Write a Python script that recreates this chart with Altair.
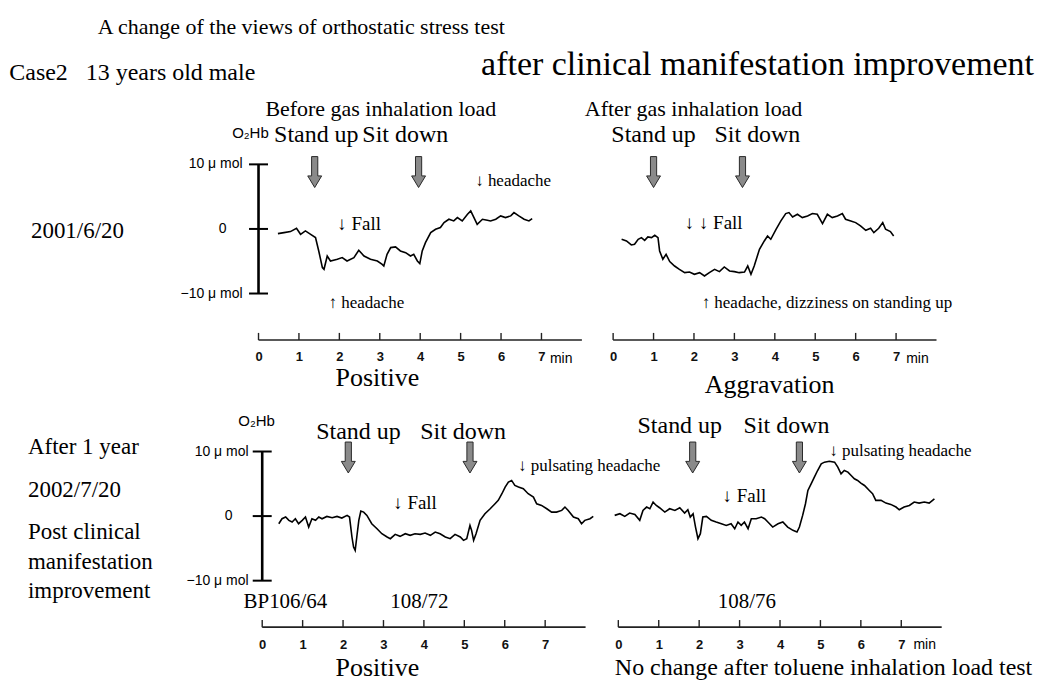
import altair as alt
import pandas as pd

# ---------------- data (minutes, µmol) ----------------
TL_T = [0.48,0.63,0.79,0.94,1.04,1.16,1.29,1.41,1.49,1.58,1.62,1.70,1.78,1.95,2.07,2.19,2.36,2.48,2.61,2.77,
        2.94,3.06,3.10,3.18,3.27,3.39,3.51,3.64,3.76,3.84,3.93,3.99,4.05,4.13,4.26,4.38,4.50,4.59,4.71,4.83,
        4.92,5.04,5.17,5.25,5.33,5.41,5.54,5.66,5.74,5.87,5.99,6.11,6.24,6.32,6.44,6.57,6.69,6.77]
TL_V = [-0.72,-0.57,-0.41,0.10,-0.83,-0.31,-0.83,-1.34,-3.41,-5.99,-6.25,-4.19,-4.96,-4.70,-4.44,-4.96,-4.44,-3.31,-4.19,-4.70,
        -4.96,-5.48,-5.74,-3.93,-2.89,-2.79,-3.41,-3.67,-4.19,-3.93,-4.96,-5.37,-3.41,-2.12,-0.57,-0.05,0.21,0.98,1.50,1.24,
        1.76,1.24,2.27,2.79,1.76,0.72,1.50,1.34,1.24,1.50,2.02,1.76,2.02,2.53,2.02,1.50,1.24,1.60]

TR_T = [0.21,0.33,0.45,0.53,0.62,0.70,0.78,0.86,0.95,1.03,1.11,1.15,1.23,1.31,1.40,1.52,1.64,1.77,1.89,2.01,
        2.14,2.26,2.38,2.51,2.63,2.75,2.88,3.00,3.12,3.25,3.33,3.41,3.49,3.62,3.74,3.82,3.90,4.03,4.15,4.27,
        4.35,4.44,4.56,4.68,4.81,4.93,5.05,5.18,5.30,5.42,5.55,5.67,5.75,5.88,6.00,6.12,6.25,6.37,6.45,6.57,
        6.67,6.74,6.86,6.94]
TR_V = [-1.60,-1.86,-2.48,-2.38,-1.60,-1.34,-1.76,-1.24,-1.34,-0.98,-1.34,-3.41,-4.70,-3.93,-5.06,-5.74,-6.25,-6.77,-6.67,-7.03,
        -6.77,-7.29,-6.77,-6.25,-6.61,-5.89,-6.51,-6.61,-6.77,-6.67,-5.74,-7.03,-5.74,-3.15,-1.86,-1.09,-1.60,-0.05,1.24,2.38,
        2.53,1.86,2.27,1.76,2.02,2.38,2.27,0.83,2.27,1.76,2.02,2.38,1.50,1.24,0.98,0.47,-0.21,0.10,-0.57,0.10,
        0.98,-0.05,-0.41,-1.09]

BL_T = [0.41,0.49,0.58,0.66,0.74,0.82,0.90,0.99,1.07,1.15,1.23,1.32,1.40,1.48,1.60,1.73,1.85,1.97,2.10,2.16,
        2.22,2.26,2.30,2.34,2.39,2.44,2.51,2.59,2.71,2.84,2.96,3.09,3.17,3.29,3.41,3.54,3.66,3.78,3.91,4.03,
        4.16,4.28,4.40,4.53,4.65,4.77,4.90,4.98,5.06,5.14,5.18,5.23,5.29,5.39,5.51,5.64,5.76,5.84,5.93,6.01,
        6.09,6.17,6.25,6.34,6.46,6.58,6.71,6.79,6.91,7.04,7.16,7.28,7.41,7.49,7.57,7.70,7.82,7.90,7.98,8.11,8.19]
BL_V = [-1.18,-0.41,-0.15,-0.66,-0.92,-0.41,-1.18,-0.66,-0.15,-1.70,-0.41,-0.66,-0.15,-0.41,-0.05,-0.25,-0.05,-0.30,0.11,-0.15,
        -3.24,-4.79,-5.31,-3.24,-0.66,0.78,0.62,0.11,-1.18,-1.96,-2.73,-3.24,-3.50,-2.83,-3.14,-2.73,-2.98,-2.73,-2.83,-2.63,
        -2.98,-2.47,-2.73,-3.24,-3.50,-2.83,-3.24,-3.76,-3.50,-1.44,-2.21,-3.76,-2.73,-0.66,0.37,1.14,1.91,2.43,3.46,4.49,
        5.26,5.52,4.74,4.49,4.23,3.46,2.94,1.91,1.65,1.14,0.62,0.62,0.88,1.40,0.88,-0.15,-0.41,-1.18,-0.66,-0.41,-0.05]

BR_T = [-0.09,0.04,0.16,0.28,0.41,0.53,0.61,0.70,0.78,0.86,0.94,1.02,1.15,1.27,1.40,1.52,1.64,1.72,1.78,1.85,
        1.91,1.97,2.03,2.09,2.18,2.30,2.42,2.55,2.67,2.79,2.88,2.96,3.04,3.12,3.21,3.29,3.41,3.54,3.62,3.70,
        3.82,3.95,4.07,4.19,4.32,4.42,4.48,4.56,4.63,4.69,4.77,4.85,4.93,5.02,5.10,5.22,5.35,5.43,5.51,5.59,
        5.68,5.76,5.84,5.92,6.00,6.09,6.21,6.29,6.37,6.50,6.62,6.74,6.87,6.95,7.07,7.20,7.32,7.44,7.57,7.69,7.82]
BR_V = [0.11,0.37,-0.05,0.47,0.26,-0.66,0.88,1.40,1.14,2.17,1.65,1.29,0.62,1.14,0.88,1.29,0.47,0.98,-0.15,0.37,
        -1.70,-3.50,-2.73,-0.15,-0.05,-0.66,-0.92,-1.18,-1.44,-1.18,-1.96,-0.92,-1.44,-0.92,-1.96,-0.41,-0.41,-0.15,-0.41,-0.92,
        -1.70,-1.18,-0.92,-1.70,-2.21,-2.47,-1.70,0.11,1.91,3.97,5.00,6.03,7.06,8.09,8.35,8.50,8.35,7.58,6.55,7.06,
        6.81,6.29,5.78,5.52,5.11,4.74,3.97,3.46,2.43,2.43,2.01,1.81,1.40,0.98,1.40,1.65,2.17,2.01,2.17,2.01,2.68]

# event arrows (minute of standing up / sitting down)
TL_EVENTS = [1.39, 3.96]
TR_EVENTS = [1.00, 3.20]
BL_EVENTS = [2.13, 5.14]
BR_EVENTS = [1.84, 4.48]

MINUTES = [0, 1, 2, 3, 4, 5, 6, 7]
Y_TICKS = [-10, 0, 10]

NB = "\u00a0"
# annotations: (label, minute, µmol, role)
TL_NOTES = [
    ("A change of the views of orthostatic stress test", -3.975, 31.22, "title"),
    ("after clinical manifestation improvement", 19.185, 25.35, "subtitle"),
    ("Case2" + NB * 3 + "13 years old male", -6.165, 24.11, "case"),
    ("Before gas inhalation load", 0.17, 18.55, "condition"),
    ("2001/6/20", -5.63, -0.31, "date"),
    ("O₂Hb", -0.20, 14.84, "signal"),
    ("Stand up", 1.43, 14.53, "event"),
    ("Sit down", 3.63, 14.53, "event"),
    ("↓ headache", 5.36, 7.42, "symptom"),
    ("↓ Fall", 1.95, 0.77, "fall"),
    ("↑ headache", 1.73, -11.44, "symptom"),
    ("10 μ mol", -0.395, 10, "ylabel"),
    ("0", -0.889, 0, "yzero"),
    ("−10 μ mol", -0.395, -10, "ylabel"),
    ("min", 7.21, -20.09, "unit"),
    ("Positive", 2.94, -23.10, "verdict"),
]
TR_NOTES = [
    ("After gas inhalation load", -0.70, 18.55, "condition"),
    ("Stand up", 1.00, 14.53, "event"),
    ("Sit down", 3.57, 14.53, "event"),
    ("↓ ↓ Fall", 1.77, 0.93, "fall"),
    ("↑ headache, dizziness on standing up", 2.19, -11.44, "symptom"),
    ("min", 7.25, -20.09, "unit"),
    ("Aggravation", 3.87, -24.10, "verdict"),
]
BL_NOTES = [
    ("After 1 year", -5.795, 10.62, "date"),
    ("2002/7/20", -5.795, 3.97, "date"),
    ("Post clinical", -5.795, -2.53, "date"),
    ("manifestation", -5.795, -7.16, "date"),
    ("improvement", -5.795, -11.64, "date"),
    ("O₂Hb", -0.14, 14.79, "signal"),
    ("Stand up", 2.38, 13.09, "event"),
    ("Sit down", 4.97, 13.09, "event"),
    ("↓ Fall", 3.24, 1.96, "fall"),
    ("↓ pulsating headache", 6.33, 7.68, "symptom"),
    ("10 μ mol", -0.338, 10, "ylabel"),
    ("0", -0.832, 0, "yzero"),
    ("−10 μ mol", -0.338, -10, "ylabel"),
    ("BP106/64", -0.462, -13.36, "bp"),
    ("108/72", 3.17, -13.36, "bp"),
    ("Positive", 2.85, -23.54, "verdict"),
]
BR_NOTES = [
    ("Stand up", 1.52, 14.02, "event"),
    ("Sit down", 4.16, 14.02, "event"),
    ("↓ Fall", 2.58, 3.09, "fall"),
    ("↓ pulsating headache", 5.22, 10.15, "symptom"),
    ("108/76", 2.46, -13.36, "bp"),
    ("min", 7.30, -20.00, "unit"),
    ("No change after toluene inhalation load test", -0.086, -23.54, "verdict_note"),
]

# ---------------- styling / layout ----------------
SERIF = "Liberation Serif"
SANS = "Liberation Sans"
ROLE_STYLE = {
    "title":        dict(font=SERIF, fontSize=22, align="left"),
    "subtitle":     dict(font=SERIF, fontSize=34, align="right"),
    "case":         dict(font=SERIF, fontSize=24, align="left"),
    "condition":    dict(font=SERIF, fontSize=22, align="left"),
    "date":         dict(font=SERIF, fontSize=23, align="left"),
    "signal":       dict(font=SANS, fontSize=15, align="center"),
    "event":        dict(font=SERIF, fontSize=24, align="center"),
    "symptom":      dict(font=SERIF, fontSize=17, align="left"),
    "fall":         dict(font=SERIF, fontSize=19, align="left"),
    "ylabel":       dict(font=SANS, fontSize=14, align="right"),
    "yzero":        dict(font=SANS, fontSize=14, align="center"),
    "unit":         dict(font=SANS, fontSize=14, align="left"),
    "verdict":      dict(font=SERIF, fontSize=26, align="center"),
    "verdict_note": dict(font=SERIF, fontSize=24, align="left"),
    "bp":           dict(font=SERIF, fontSize=21, align="left"),
}

Y_DOMAIN = [-17.2, 21.44]
PANEL_W, PANEL_H = 324, 250
AXIS_END = 8.0
TICK_LEN = 1.1  # µmol units of the upward x-axis ticks
FRAME_T = [-6.173, 19.36]   # page extent (minutes of the first panel) used as layout anchor
FRAME_V = 34.0

ARROW = "M-0.2,-1 L0.2,-1 L0.2,0.25 L0.45,0.25 L0,1 L-0.45,0.25 L-0.2,0.25 Z"


def panel(curve_t, curve_v, events, event_v, notes, x_domain, y_axis, anchor=False):
    xs = alt.Scale(domain=x_domain, nice=False, zero=False)
    ys = alt.Scale(domain=Y_DOMAIN, nice=False, zero=False)
    xaxis = alt.Axis(values=MINUTES, domain=False, ticks=False, tickSize=0, grid=False,
                     labelPadding=11, labelFont=SANS, labelFontSize=13, labelFontWeight="bold",
                     labelColor="#111", labelFlush=False, labelOverlap=False, title=None, format="d")

    def X(f):
        return alt.X(f, type="quantitative", scale=xs, axis=xaxis)

    def Y(f):
        return alt.Y(f, type="quantitative", scale=ys, axis=None)

    layers = []
    if anchor:
        fr = pd.DataFrame({"t0": [FRAME_T[0]], "t1": [FRAME_T[1]], "v": [FRAME_V]})
        layers.append(alt.Chart(fr).mark_rule(opacity=0, strokeWidth=1)
                      .encode(x=X("t0"), x2=alt.X2("t1"), y=Y("v")))

    curve = pd.DataFrame({"t": curve_t, "v": curve_v})
    layers.append(alt.Chart(curve).mark_line(color="black", strokeWidth=1.6)
                  .encode(x=X("t"), y=Y("v")))

    base = pd.DataFrame({"t0": [0.0], "t1": [AXIS_END], "y": [Y_DOMAIN[0]]})
    layers.append(alt.Chart(base).mark_rule(color="#222", strokeWidth=1.6)
                  .encode(x=X("t0"), x2=alt.X2("t1"), y=Y("y")))
    ticks = pd.DataFrame({"t": MINUTES, "y0": [Y_DOMAIN[0]] * len(MINUTES),
                          "y1": [Y_DOMAIN[0] + TICK_LEN] * len(MINUTES)})
    layers.append(alt.Chart(ticks).mark_rule(color="#222", strokeWidth=1.4)
                  .encode(x=X("t"), y=Y("y0"), y2=alt.Y2("y1")))

    if y_axis:
        yline = pd.DataFrame({"t": [0.0], "v0": [Y_TICKS[0]], "v1": [Y_TICKS[-1]]})
        layers.append(alt.Chart(yline).mark_rule(color="black", strokeWidth=2.6)
                      .encode(x=X("t"), y=Y("v0"), y2=alt.Y2("v1")))
        yt = pd.DataFrame({"t": [0.0] * len(Y_TICKS), "v": Y_TICKS})
        layers.append(alt.Chart(yt).mark_tick(orient="horizontal", size=19, thickness=2, color="black", opacity=1)
                      .encode(x=X("t"), y=Y("v")))

    arr = pd.DataFrame({"t": events, "v": [event_v] * len(events)})
    layers.append(alt.Chart(arr).mark_point(shape=ARROW, size=961, filled=True, fill="#8a8a8a",
                                            stroke="#2a2a2a", strokeWidth=1, opacity=1)
                  .encode(x=X("t"), y=Y("v")))

    nd = pd.DataFrame(notes, columns=["label", "t", "v", "role"])
    for role in nd["role"].unique():
        sub = nd[nd["role"] == role]
        layers.append(alt.Chart(sub).mark_text(baseline="middle", color="black", **ROLE_STYLE[role])
                      .encode(x=X("t"), y=Y("v"), text="label:N"))

    return alt.layer(*layers).properties(width=PANEL_W, height=PANEL_H)


tl = panel(TL_T, TL_V, TL_EVENTS, 8.81, TL_NOTES, [0.0, 8.0], True, anchor=True)
tr = panel(TR_T, TR_V, TR_EVENTS, 8.81, TR_NOTES, [0.0, 8.0], False)
bl = panel(BL_T, BL_V, BL_EVENTS, 9.07, BL_NOTES, [-0.0914, 7.9086], True)
br = panel(BR_T, BR_V, BR_EVENTS, 9.07, BR_NOTES, [-0.1284, 7.8716], False)

chart = alt.concat(
    tl, tr, bl, br, columns=2,
    spacing={"row": 37.7, "column": 31.3},
    align="none", bounds="flush",
).properties(padding=0, background="white").configure_view(stroke=None)

chart.save("out.html", embed_options={"renderer": "svg", "actions": False})
